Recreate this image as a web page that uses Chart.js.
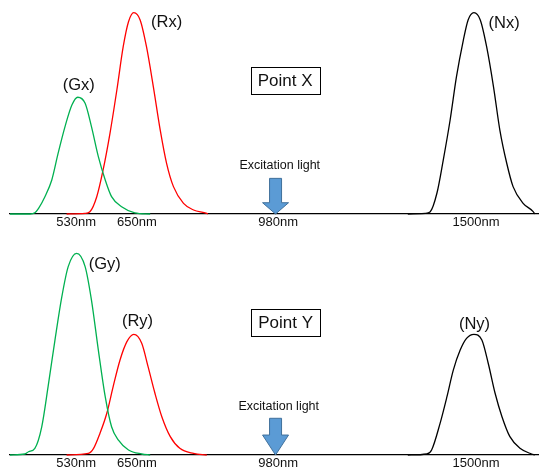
<!DOCTYPE html>
<html>
<head>
<meta charset="utf-8">
<script src="https://cdn.jsdelivr.net/npm/chart.js@4"></script>
<style>
  body { margin: 0; background: #fff; }
  .panel { position: absolute; left: 0; width: 539px; height: 235px; }
  #top { top: 0; }
  #bottom { top: 235px; }
</style>
</head>
<body>
<div class="panel" id="top"><canvas id="chartX" width="539" height="235"></canvas></div>
<div class="panel" id="bottom"><canvas id="chartY" width="539" height="235"></canvas></div>
<script>
// x is a schematic position (0-100), the nm labels are not on a linear scale
const tickPos = [12.5, 24.0, 50.7, 88.1]
const tickLabels = ["530nm", "650nm", "980nm", "1500nm"]

// point X spectra (relative intensity, tallest peak = 100)
const gxPos = [0, 3.8, 4.7, 5.4, 6.6, 7.9, 9.1, 10.4, 11.7, 12.8, 14.2, 15.4, 16.7, 18.0, 19.2, 21.1, 23.6, 26.5]
const gxVal = [0, 0, 0.6, 2.8, 8.6, 16.9, 30.2, 43.4, 54.1, 58, 55, 43.4, 28.5, 16.9, 8.6, 3.6, 0.6, 0]
const rxPos = [10.7, 14.2, 15.1, 16.4, 17.6, 18.9, 20.2, 21.4, 22.4, 23.4, 24.6, 25.8, 27.1, 28.4, 29.6, 30.9, 32.8, 34.7, 37.2, 37.4]
const rxVal = [0, 0.3, 1.1, 8.6, 21.9, 40.1, 61.6, 83.1, 95.5, 100, 96.4, 83.1, 63.2, 41.7, 25.2, 13.6, 5.3, 2, 0.3, 0]
const nxPos = [75.2, 78.5, 79.4, 80.7, 81.9, 83.2, 84.4, 85.7, 86.6, 87.7, 88.9, 90.1, 91.4, 92.6, 93.9, 95.1, 97.0, 98.9, 99.2]
const nxVal = [0, 0.3, 1, 10.3, 26.8, 46.7, 68.2, 86.4, 96.4, 100, 96.4, 83.1, 63.2, 41.7, 25.2, 13.6, 5.3, 1.2, 0]

// point Y spectra
const gyPos = [0, 2.8, 3.5, 4.7, 6.0, 7.2, 8.5, 9.8, 11.0, 12.6, 14.2, 15.4, 16.7, 18.0, 19.2, 20.5, 22.4, 24.9, 26.5]
const gyVal = [0, 0.5, 1.6, 3.3, 14, 33.9, 57, 78.5, 93.4, 100, 93.4, 76.8, 52, 28.9, 14, 7.4, 2.5, 0.5, 0]
const ryPos = [10.7, 14.8, 15.8, 17.0, 18.3, 19.5, 20.8, 22.1, 23.4, 24.9, 26.1, 27.4, 28.7, 30.3, 32.1, 34.7, 37.2]
const ryVal = [0, 0.8, 3.3, 10.7, 20.7, 33.9, 47.1, 56.2, 59.8, 55.4, 43.8, 30.6, 19, 9.1, 3.3, 0.8, 0]
const nyPos = [75.2, 78.8, 79.7, 81.3, 82.6, 83.8, 85.1, 86.3, 87.7, 89.2, 90.4, 91.7, 93.0, 94.5, 96.4, 98.6, 99.2]
const nyVal = [0, 0.5, 2.5, 15.7, 28.9, 42.1, 52, 57.8, 59.8, 57, 45.5, 30.6, 19, 9.1, 3.3, 0.5, 0]

const FONT = "'Liberation Sans', Arial, sans-serif"

function pts(xs, ys) {
    return xs.map((x, i) => ({ x: x, y: ys[i] }))
}

function curve(xs, ys, color) {
    return {
        data: pts(xs, ys),
        borderColor: color,
        borderWidth: 1.3,
        pointRadius: 0,
        cubicInterpolationMode: "monotone",
        clip: false
    }
}

// labels, boxed point name and the excitation arrow
const notes = {
    id: "notes",
    afterDatasetsDraw(chart, args, opts) {
        const ctx = chart.ctx
        const x = chart.scales.x
        const y = chart.scales.y
        ctx.save()
        ctx.fillStyle = "#111"
        ctx.textAlign = "center"
        ctx.textBaseline = "middle"

        ctx.font = "16.5px " + FONT
        opts.peaks.forEach(p => {
            ctx.fillText(p.text, x.getPixelForValue(p.x), y.getPixelForValue(p.y))
        })

        ctx.font = "17px " + FONT
        const bx = x.getPixelForValue(opts.box.x)
        const by = y.getPixelForValue(opts.box.y)
        const w = Math.round(ctx.measureText(opts.box.text).width + 14)
        const h = 27
        ctx.strokeStyle = "#000"
        ctx.lineWidth = 1
        ctx.strokeRect(Math.round(bx - w / 2) + 0.5, Math.round(by - h / 2) + 0.5, w, h)
        ctx.fillText(opts.box.text, bx, by + 1)

        const a = opts.arrow
        ctx.font = "12.5px " + FONT
        ctx.fillText("Excitation light", x.getPixelForValue(a.textX), y.getPixelForValue(a.textY))
        const ax = x.getPixelForValue(a.x)
        const top = y.getPixelForValue(a.top)
        const neck = y.getPixelForValue(a.neck)
        const tip = y.getPixelForValue(0)
        ctx.beginPath()
        ctx.moveTo(ax - 6, top)
        ctx.lineTo(ax + 6, top)
        ctx.lineTo(ax + 6, neck)
        ctx.lineTo(ax + 13, neck)
        ctx.lineTo(ax, tip)
        ctx.lineTo(ax - 13, neck)
        ctx.lineTo(ax - 6, neck)
        ctx.closePath()
        ctx.fillStyle = "#5B9BD5"
        ctx.fill()
        ctx.strokeStyle = "#41719C"
        ctx.stroke()
        ctx.restore()
    }
}

function makeChart(id, datasets, padTop, axisHeight, notesOpts) {
    return new Chart(document.getElementById(id), {
        type: "line",
        data: { datasets: datasets },
        options: {
            responsive: false,
            animation: false,
            layout: { padding: { left: 10, right: 0, top: padTop, bottom: 0 } },
            scales: {
                x: {
                    type: "linear",
                    min: 0,
                    max: 100,
                    grid: { display: false, drawTicks: false },
                    border: { display: true, color: "#000", width: 1.2 },
                    afterBuildTicks: s => { s.ticks = tickPos.map(v => ({ value: v })) },
                    afterFit: s => { s.height = axisHeight },
                    ticks: {
                        autoSkip: false,
                        maxRotation: 0,
                        padding: 1,
                        color: "#111",
                        font: { family: FONT, size: 13 },
                        callback: (v, i) => tickLabels[i]
                    }
                },
                y: { display: false, min: 0, max: 100 }
            },
            plugins: {
                legend: { display: false },
                tooltip: { enabled: false },
                notes: notesOpts
            }
        },
        plugins: [notes]
    })
}

makeChart("chartX", [
    curve(gxPos, gxVal, "#00B050"),
    curve(rxPos, rxVal, "#FF0000"),
    curve(nxPos, nxVal, "#000000")
], 12.7, 21, {
    peaks: [
        { text: "(Gx)", x: 13.0, y: 64.1 },
        { text: "(Rx)", x: 29.6, y: 95.1 },
        { text: "(Nx)", x: 93.4, y: 94.9 }
    ],
    box: { text: "Point X", x: 52.0, y: 66.3 },
    arrow: { x: 50.2, top: 17.7, neck: 5.6, textX: 51.0, textY: 24.3 }
})

makeChart("chartY", [
    curve(gyPos, gyVal, "#00B050"),
    curve(ryPos, ryVal, "#FF0000"),
    curve(nyPos, nyVal, "#000000")
], 18.3, 15, {
    peaks: [
        { text: "(Gy)", x: 17.9, y: 94.7 },
        { text: "(Ry)", x: 24.1, y: 66.4 },
        { text: "(Ny)", x: 87.8, y: 64.9 }
    ],
    box: { text: "Point Y", x: 52.1, y: 65.9 },
    arrow: { x: 50.2, top: 18.2, neck: 9.9, textX: 50.8, textY: 24.0 }
})
</script>
</body>
</html>
